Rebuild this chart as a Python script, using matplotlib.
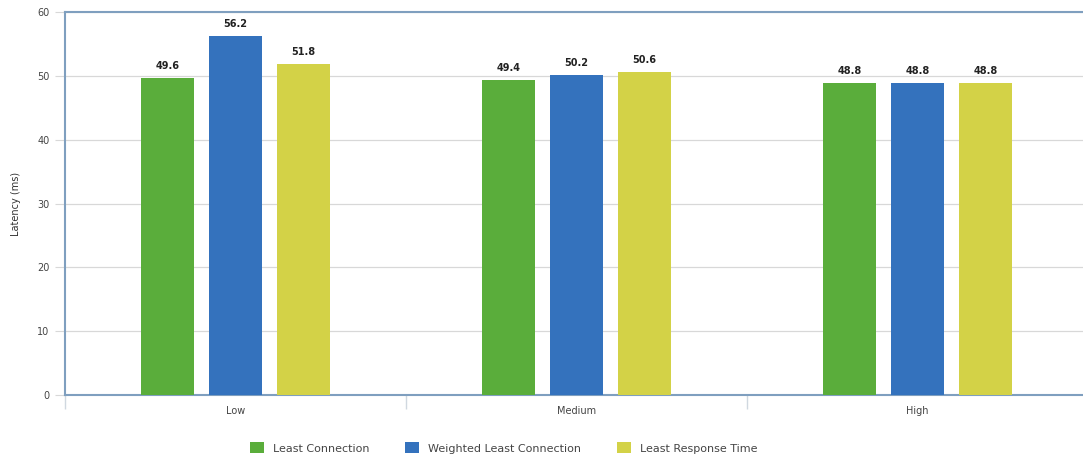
import matplotlib
matplotlib.use("Agg")
import matplotlib.pyplot as plt
import numpy as np
from matplotlib.patches import Patch

categories = ["Low", "Medium", "High"]
series_names = ["Least Connection", "Weighted Least Connection", "Least Response Time"]
least_connection = [49.6, 49.4, 48.8]
weighted_least_connection = [56.2, 50.2, 48.8]
least_response_time = [51.8, 50.6, 48.8]
colors = ["#5aad3b", "#3472bd", "#d3d247"]
y_ticks = [0, 10, 20, 30, 40, 50, 60]

fig = plt.figure(figsize=(10.83, 4.59), dpi=100)
ax = fig.add_axes([0.060, 0.139, 0.9446, 0.835])

x = np.arange(len(categories))
width = 0.156
offsets = [-0.2, 0.0, 0.2]
for vals, off, col in zip([least_connection, weighted_least_connection, least_response_time], offsets, colors):
    bars = ax.bar(x + off, vals, width, color=col, zorder=3)
    for b, v in zip(bars, vals):
        ax.text(b.get_x() + b.get_width() / 2, v + 1.1, f"{v:.1f}", ha="center", va="bottom",
                fontsize=7, fontweight="bold", color="#222222", zorder=4)

ax.set_xlim(-0.5, 2.5)
ax.set_ylim(0, 60)
ax.set_yticks(y_ticks)
ax.set_yticklabels([str(t) for t in y_ticks], fontsize=7, color="#444444")
ax.yaxis.grid(True, color="#d8d8d8", linewidth=0.9, zorder=0)
ax.tick_params(axis="y", length=7, color="#d8d8d8", pad=4)

ax.set_xticks(x)
ax.set_xticklabels(categories, fontsize=7, color="#444444")
ax.tick_params(axis="x", which="major", length=0, pad=8)
ax.set_xticks([-0.5, 0.5, 1.5, 2.5], minor=True)
ax.tick_params(axis="x", which="minor", length=10, color="#d0d8e0", width=1)

for side in ["left", "top", "bottom"]:
    ax.spines[side].set_color("#7f9fbf")
    ax.spines[side].set_linewidth(1.5)
ax.spines["right"].set_visible(False)

ax.set_ylabel("Latency (ms)", fontsize=7, color="#333333", labelpad=12)

handles = [Patch(facecolor=c, edgecolor="none") for c in colors]
fig.legend(handles, series_names, loc="center", bbox_to_anchor=(0.465, 0.024), ncol=3,
           frameon=False, fontsize=8, handlelength=1.3, handleheight=1.1,
           columnspacing=3.2, handletextpad=0.8, labelcolor="#444444")

fig.savefig("out.png", dpi=100)
